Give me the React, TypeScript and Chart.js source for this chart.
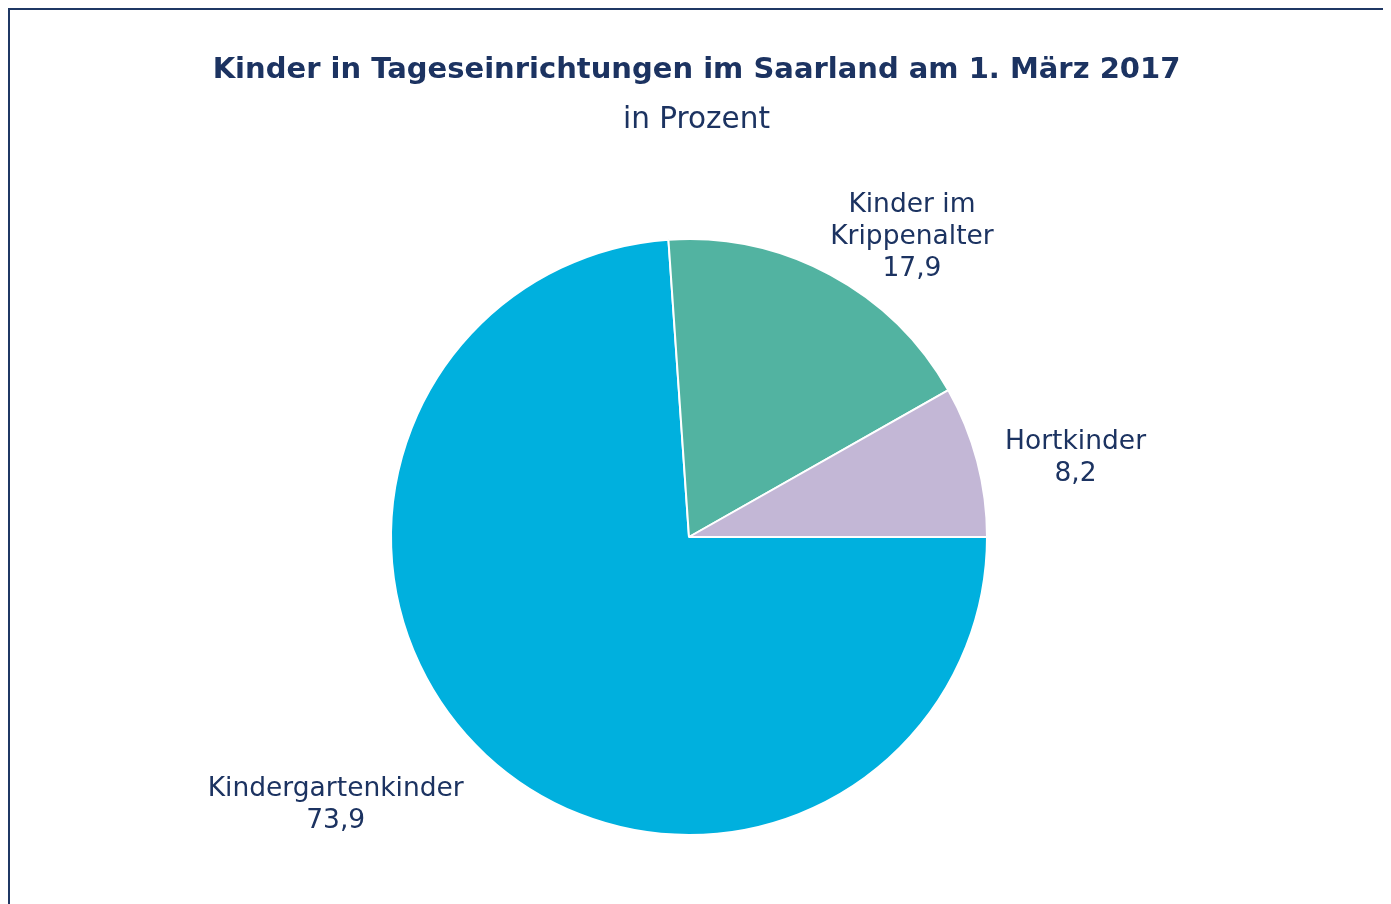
import React, { useEffect, useRef } from "react";
import { Chart, registerables } from "chart.js";

Chart.register(...registerables);

const categories = ["Kindergartenkinder", "Kinder im Krippenalter", "Hortkinder"];
const labelLines = [["Kindergartenkinder"], ["Kinder im", "Krippenalter"], ["Hortkinder"]];
const values = [73.9, 17.9, 8.2];
const colors = ["#00B0DE", "#52B3A1", "#C3B7D6"];
const titleText = "Kinder in Tageseinrichtungen im Saarland am 1. März 2017";
const subtitleText = "in Prozent";

// label placement relative to the slice: angle shift (deg, clockwise) and distance (× radius)
const labelAngleShift = [10.0, 8.2, 3.0];
const labelDistance = [1.484, 1.259, 1.325];

const NAVY = "#1C3361";
const FONT = '"DejaVu Sans", Verdana, sans-serif';

const fmt = (v: number) => v.toFixed(1).replace(".", ",");

const textPlugin = {
  id: "pieTexts",
  afterDraw(chart: any) {
    const ctx = chart.ctx;
    const meta = chart.getDatasetMeta(0);
    ctx.save();
    ctx.fillStyle = NAVY;
    ctx.textAlign = "center";
    ctx.textBaseline = "middle";
    ctx.font = `bold 29px ${FONT}`;
    ctx.fillText(titleText, chart.width / 2, 60);
    ctx.font = `29.5px ${FONT}`;
    ctx.fillText(subtitleText, chart.width / 2, 110);
    ctx.font = `26.5px ${FONT}`;
    meta.data.forEach((arc: any, i: number) => {
      const { x, y, startAngle, endAngle, outerRadius } = arc.getProps(
        ["x", "y", "startAngle", "endAngle", "outerRadius"],
        true
      );
      const a = (startAngle + endAngle) / 2 + (labelAngleShift[i] * Math.PI) / 180;
      const d = outerRadius * labelDistance[i];
      const lx = x + Math.cos(a) * d;
      const ly = y + Math.sin(a) * d + 2;
      const lines = [...labelLines[i], fmt(values[i])];
      const lh = 32;
      lines.forEach((t, j) => {
        ctx.fillText(t, lx, ly + (j - (lines.length - 1) / 2) * lh);
      });
    });
    ctx.restore();
  },
};

export default function App() {
  const ref = useRef<HTMLCanvasElement | null>(null);
  useEffect(() => {
    document.documentElement.style.overflow = "hidden";
    document.body.style.overflow = "hidden";
    if (!ref.current) return;
    const chart = new Chart(ref.current, {
      type: "pie",
      data: {
        labels: categories,
        datasets: [
          {
            data: values,
            backgroundColor: colors,
            borderColor: "#FFFFFF",
            borderWidth: 2,
          },
        ],
      },
      options: {
        responsive: false,
        animation: false,
        devicePixelRatio: 1,
        rotation: 90,
        radius: 298,
        layout: { padding: { top: 227, bottom: 73, left: 0, right: 15 } },
        plugins: {
          legend: { display: false },
          tooltip: { enabled: false },
          title: { display: false },
        },
        events: [],
      },
      plugins: [textPlugin],
    });
    return () => chart.destroy();
  }, []);
  return (
    <div
      style={{
        border: "2px solid #1F3864",
        width: 1373,
        height: 900,
        overflow: "hidden",
        background: "#fff",
      }}
    >
      <canvas ref={ref} width={1373} height={900} style={{ display: "block" }} />
    </div>
  );
}
